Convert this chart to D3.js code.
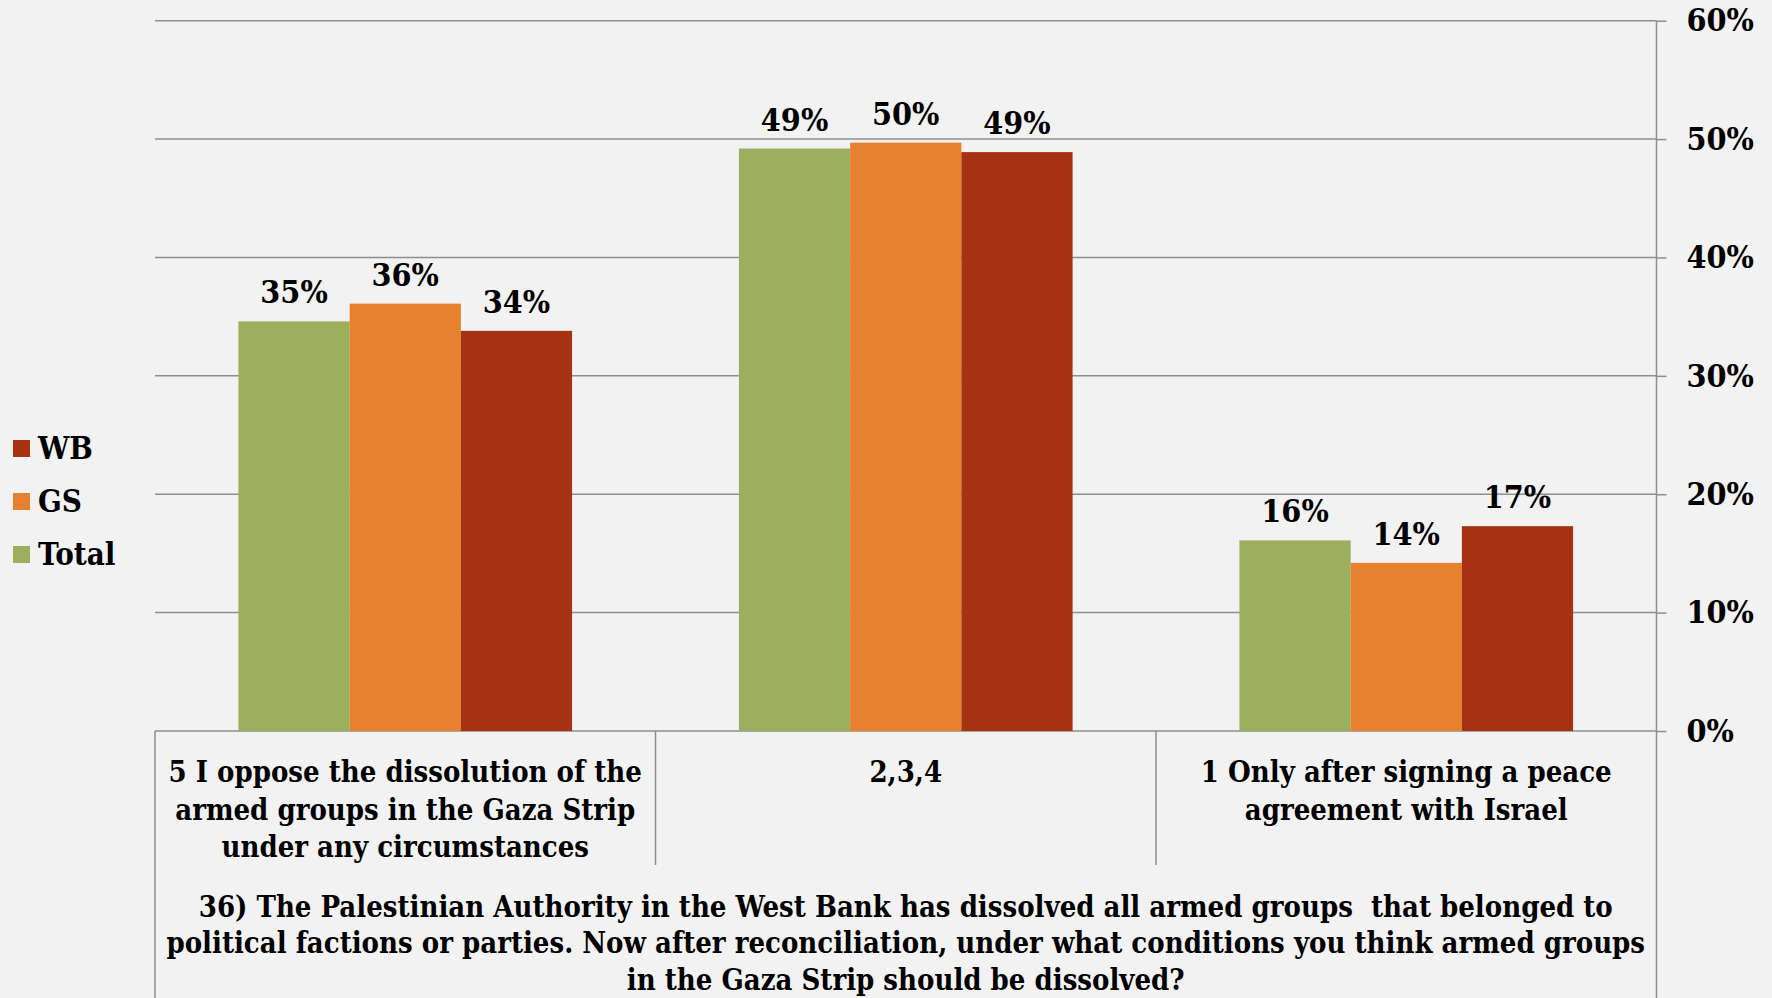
<!DOCTYPE html>
<html>
<head>
<meta charset="utf-8">
<script src="https://cdn.jsdelivr.net/npm/d3@7"></script>
<style>
  html, body { margin: 0; padding: 0; background: #f2f2f2; }
  svg { display: block; }
  text { font-family: "DejaVu Serif Condensed", "DejaVu Serif", serif; font-stretch: condensed; font-weight: bold; fill: #000; white-space: pre; }
</style>
</head>
<body>
<svg id="chart" width="1772" height="998"></svg>
<script>
// ---- data ----
const categories = ["cat5", "cat234", "cat1"];
const categoryLines = [
  ["5 I oppose the dissolution of the", "armed groups in the Gaza Strip", "under any circumstances"],
  ["2,3,4"],
  ["1 Only after signing a peace", "agreement with Israel"]
];
const seriesNames = ["Total", "GS", "WB"];
const totalValues = [34.6, 49.2, 16.1];
const gsValues = [36.1, 49.7, 14.2];
const wbValues = [33.8, 48.9, 17.3];
const valueLabels = [["35%", "49%", "16%"], ["36%", "50%", "14%"], ["34%", "49%", "17%"]];
const yTicks = [0, 10, 20, 30, 40, 50, 60];
const titleLines = [
  "36) The Palestinian Authority in the West Bank has dissolved all armed groups  that belonged to",
  "political factions or parties. Now after reconciliation, under what conditions you think armed groups",
  "in the Gaza Strip should be dissolved?"
];
const colors = ["#9caf5e", "#e6822f", "#a63113"];

// ---- layout ----
const svg = d3.select("#chart");
const L = 155, R = 1656.5, T = 20.7, B = 731;
const series = [totalValues, gsValues, wbValues];
const FONT = "'DejaVu Serif Condensed', 'DejaVu Serif', serif";

const x = d3.scaleBand().domain(categories).range([L, R]).paddingInner(0).paddingOuter(0);
const x1 = d3.scaleBand().domain(seriesNames).range([0, x.bandwidth()]).paddingInner(0).paddingOuter(0.75);
const y = d3.scaleLinear().domain([0, 60]).range([B, T]);

const gridColor = "#8e8e8e";

// gridlines
svg.append("g")
  .selectAll("line").data(yTicks).join("line")
  .attr("x1", L).attr("x2", R)
  .attr("y1", d => y(d)).attr("y2", d => y(d))
  .attr("stroke", gridColor).attr("stroke-width", 1.5);

// bars
const gBars = svg.append("g");
series.forEach((vals, si) => {
  gBars.selectAll(null).data(vals).join("rect")
    .attr("x", (d, i) => x(categories[i]) + x1(seriesNames[si]))
    .attr("width", x1.bandwidth())
    .attr("y", d => y(d))
    .attr("height", d => B - y(d))
    .attr("fill", colors[si]);
});

// value labels
series.forEach((vals, si) => {
  svg.append("g").selectAll("text").data(vals).join("text")
    .attr("x", (d, i) => x(categories[i]) + x1(seriesNames[si]) + x1.bandwidth() / 2)
    .attr("y", d => y(d) - 18)
    .attr("text-anchor", "middle")
    .attr("font-size", 32)
    .text((d, i) => valueLabels[si][i]);
});

// right axis
const axis = d3.axisRight(y).tickValues(yTicks).tickSize(10).tickPadding(20).tickFormat(d => d + "%");
const gAxis = svg.append("g").attr("transform", `translate(${R},0)`).call(axis);
gAxis.select(".domain").remove();
gAxis.selectAll(".tick line").attr("stroke", gridColor).attr("stroke-width", 1.5);
gAxis.selectAll(".tick text")
  .attr("font-size", 32)
  .attr("font-family", FONT)
  .attr("font-weight", "bold")
  .attr("fill", "#000");
svg.append("line").attr("x1", R).attr("x2", R).attr("y1", T).attr("y2", 998)
  .attr("stroke", gridColor).attr("stroke-width", 1.5);

// category table lines
svg.append("line").attr("x1", L).attr("x2", L).attr("y1", B).attr("y2", 998)
  .attr("stroke", gridColor).attr("stroke-width", 1.5);
svg.append("g").selectAll("line").data(categories.slice(1)).join("line")
  .attr("x1", d => x(d)).attr("x2", d => x(d))
  .attr("y1", B).attr("y2", 865)
  .attr("stroke", gridColor).attr("stroke-width", 1.5);

// category labels
categories.forEach((c, i) => {
  const t = svg.append("text")
    .attr("text-anchor", "middle")
    .attr("font-size", 29);
  categoryLines[i].forEach((line, li) => {
    t.append("tspan")
      .attr("x", x(c) + x.bandwidth() / 2)
      .attr("y", 782 + li * 37.5)
      .text(line);
  });
});

// title
const tt = svg.append("text").attr("text-anchor", "middle").attr("font-size", 29);
titleLines.forEach((line, li) => {
  tt.append("tspan").attr("x", (L + R) / 2).attr("y", 916.5 + li * 36.7).text(line);
});

// legend (reverse order: WB, GS, Total)
const legendOrder = [2, 1, 0];
const lg = svg.append("g");
legendOrder.forEach((si, k) => {
  lg.append("rect").attr("x", 13).attr("y", 440 + k * 53).attr("width", 17).attr("height", 17).attr("fill", colors[si]);
  lg.append("text").attr("x", 38).attr("y", 459 + k * 53).attr("font-size", 31).text(seriesNames[si]);
});
</script>
</body>
</html>
